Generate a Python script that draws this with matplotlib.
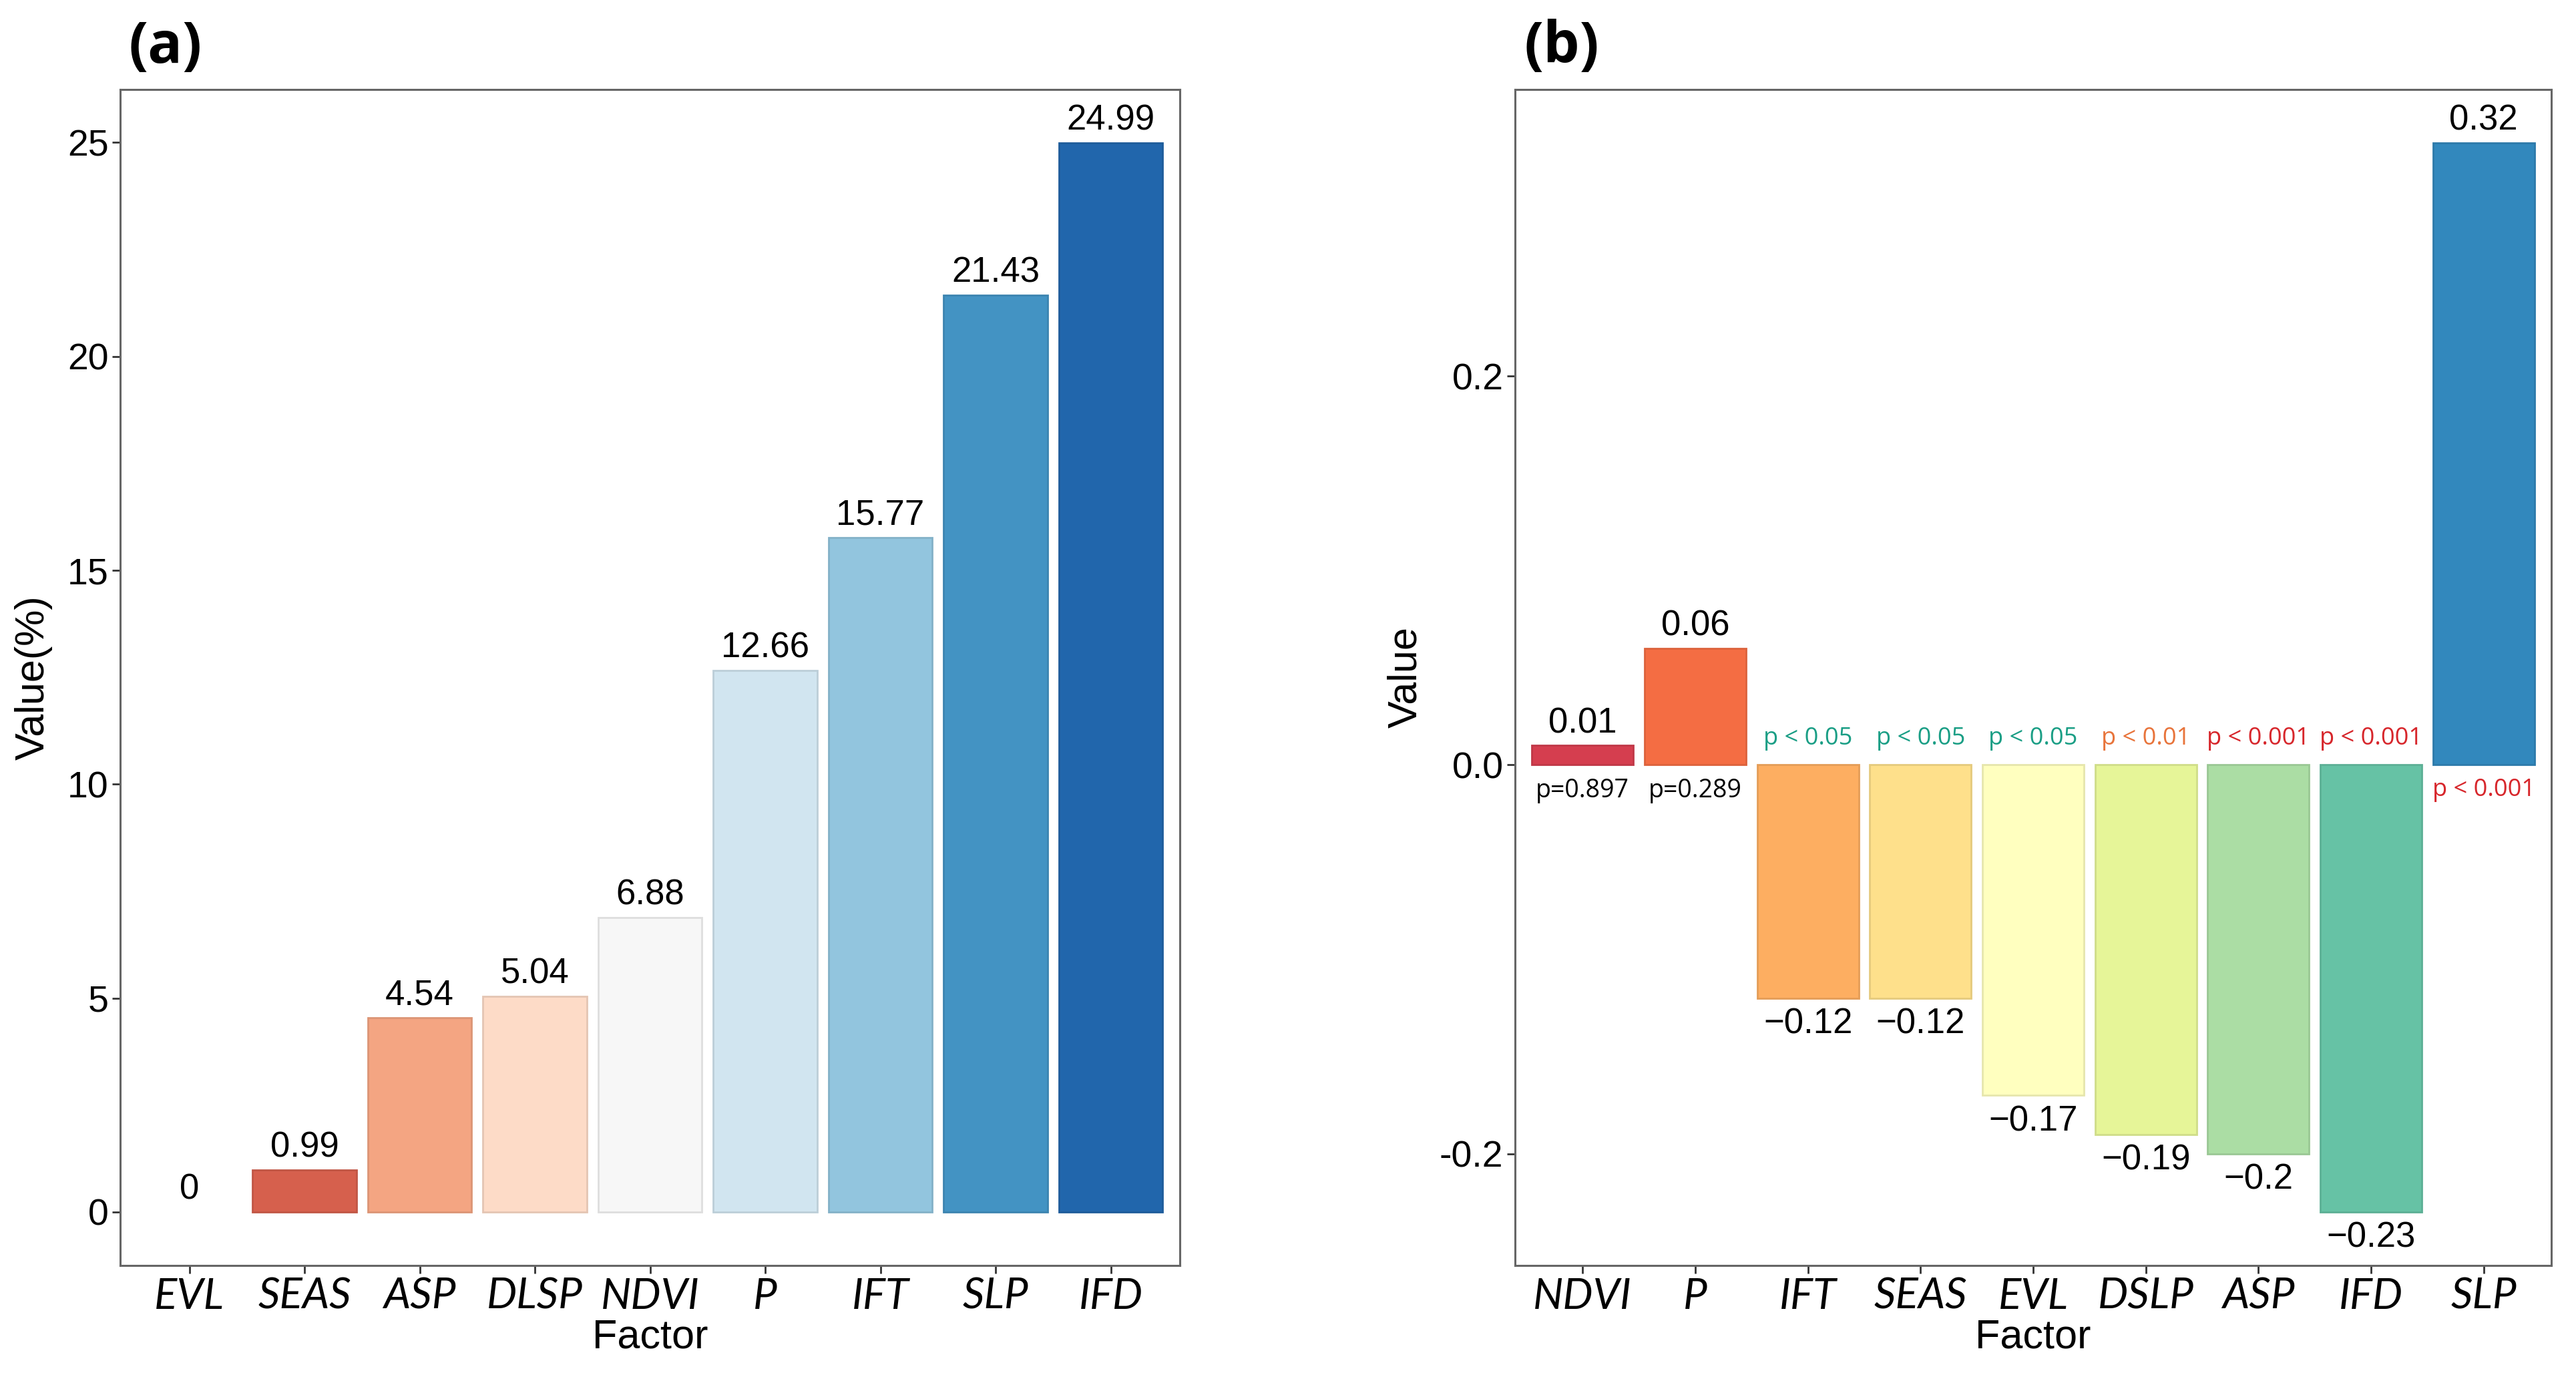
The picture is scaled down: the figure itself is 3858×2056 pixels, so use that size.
import matplotlib
matplotlib.use("Agg")
import matplotlib.pyplot as plt
import matplotlib.colors as mcolors
import numpy as np

# ================== DATA ==================
factors_a = ["EVL", "SEAS", "ASP", "DLSP", "NDVI", "P", "IFT", "SLP", "IFD"]
values_a = [0, 0.99, 4.54, 5.04, 6.88, 12.66, 15.77, 21.43, 24.99]
colors_a = ["#B2182B", "#D6604D", "#F4A582", "#FDDBC7", "#F7F7F7",
            "#D1E5F0", "#92C5DE", "#4393C3", "#2166AC"]

factors_b = ["NDVI", "P", "IFT", "SEAS", "EVL", "DSLP", "ASP", "IFD", "SLP"]
values_b = [0.01, 0.06, -0.12, -0.12, -0.17, -0.19, -0.2, -0.23, 0.32]
labels_b = ["0.01", "0.06", "\u22120.12", "\u22120.12", "\u22120.17",
            "\u22120.19", "\u22120.2", "\u22120.23", "0.32"]
colors_b = ["#D53E4F", "#F46D43", "#FDAE61", "#FEE08B", "#FFFFBF",
            "#E6F598", "#ABDDA4", "#66C2A5", "#3288BD"]
pvals_b = ["p=0.897", "p=0.289", "p < 0.05", "p < 0.05", "p < 0.05",
           "p < 0.01", "p < 0.001", "p < 0.001", "p < 0.001"]
pcolors_b = ["black", "black", "#1A9E85", "#1A9E85", "#1A9E85",
             "#E8743B", "#D7262B", "#D7262B", "#D7262B"]

# ================== STYLE ==================
NUM_FONT = "Liberation Sans"
CAT_FONT = "Lato"
P_FONT = "Open Sans"
TICK_SIZE = 20
CAT_SIZE = 23
VAL_SIZE = 19
TITLE_SIZE = 22
SPINE_COLOR = "#666666"

W, H, DPI = 3858, 2056, 200
fig = plt.figure(figsize=(W / DPI, H / DPI), dpi=DPI)

bottom = 1 - 1895 / H
height = (1895 - 134) / H
ax_a = fig.add_axes([180 / W, bottom, (1767 - 180) / W, height])
ax_b = fig.add_axes([2269 / W, bottom, (3821 - 2269) / W, height])


def darker(c, f=0.9):
    r, g, b = mcolors.to_rgb(c)
    return (r * f, g * f, b * f)


def style_axes(ax, cats):
    for sp in ax.spines.values():
        sp.set_color(SPINE_COLOR)
        sp.set_linewidth(1.1)
    ax.tick_params(axis="both", length=4.3, width=1.0, color="#333333", pad=2)
    ax.set_xticks(np.arange(1, len(cats) + 1))
    ax.set_xticklabels(cats, fontsize=CAT_SIZE, family=CAT_FONT, style="italic")
    for lab in ax.get_yticklabels():
        lab.set_family(NUM_FONT)
        lab.set_fontsize(TICK_SIZE)
    ax.set_xlim(0.4, len(cats) + 0.6)
    ax.set_xlabel("Factor", fontsize=TITLE_SIZE, family=NUM_FONT, labelpad=1.5)


def draw_bars(ax, xs, vals, cols):
    ax.bar(xs, vals, width=0.9, color=cols,
           edgecolor=[darker(c) for c in cols],
           linewidth=[0 if v == 0 else 1.0 for v in vals])


# ================== PANEL (a) ==================
x_a = np.arange(1, len(factors_a) + 1)
draw_bars(ax_a, x_a, values_a, colors_a)
ax_a.set_ylim(-1.2495, 26.2395)
ax_a.set_yticks([0, 5, 10, 15, 20, 25])
ax_a.set_yticklabels(["0", "5", "10", "15", "20", "25"])
style_axes(ax_a, factors_a)
ax_a.set_ylabel("Value(%)", fontsize=TITLE_SIZE, family=NUM_FONT, labelpad=8)
for xi, v in zip(x_a, values_a):
    ax_a.annotate(f"{v:g}" if v == 0 else f"{v:.2f}", (xi, v),
                  textcoords="offset points", xytext=(0, 3),
                  ha="center", va="bottom", fontsize=VAL_SIZE, family=NUM_FONT)

# ================== PANEL (b) ==================
x_b = np.arange(1, len(factors_b) + 1)
draw_bars(ax_b, x_b, values_b, colors_b)
ax_b.set_ylim(-0.2575, 0.3475)
ax_b.set_yticks([-0.2, 0.0, 0.2])
ax_b.set_yticklabels(["-0.2", "0.0", "0.2"])
style_axes(ax_b, factors_b)
ax_b.set_ylabel("Value", fontsize=TITLE_SIZE, family=NUM_FONT, labelpad=8)

for xi, v, lab, pv, pc in zip(x_b, values_b, labels_b, pvals_b, pcolors_b):
    if v >= 0:
        ax_b.annotate(lab, (xi, v), textcoords="offset points", xytext=(0, 3),
                      ha="center", va="bottom", fontsize=VAL_SIZE, family=NUM_FONT)
        psize = 13.5 if pc == "black" else 13
        ax_b.annotate(pv, (xi, 0), textcoords="offset points", xytext=(0, -7),
                      ha="center", va="top", fontsize=psize, family=P_FONT, color=pc)
    else:
        ax_b.annotate(lab, (xi, v), textcoords="offset points", xytext=(0, -5),
                      ha="center", va="top", fontsize=VAL_SIZE, family=NUM_FONT)
        ax_b.annotate(pv, (xi, 0), textcoords="offset points", xytext=(0, 11),
                      ha="center", va="baseline", fontsize=13, family=P_FONT, color=pc)

# panel tags
fig.text(192 / W, 1 - 72 / H, "(a)", fontsize=31, fontweight="bold",
         family=P_FONT, ha="left", va="center")
fig.text(2283 / W, 1 - 72 / H, "(b)", fontsize=31, fontweight="bold",
         family=P_FONT, ha="left", va="center")

fig.savefig("out.png", dpi=DPI, facecolor="white")
